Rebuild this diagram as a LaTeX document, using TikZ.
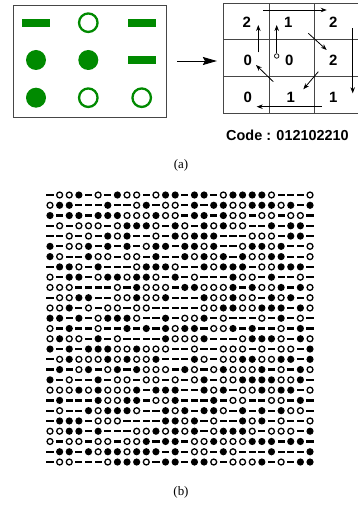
\documentclass[tikz,border=0pt]{standalone}
\usepackage{fontspec}
\setmainfont{Liberation Serif}
\setsansfont{Liberation Sans}
\usetikzlibrary{arrows.meta, positioning, calc}
\definecolor{codegreen}{RGB}{0,138,0}
\definecolor{gridgray}{RGB}{70,70,70}

\begin{document}
\begin{tikzpicture}[
    x=1bp, y=-1bp, >=Stealth,
    gbar/.style={fill=codegreen, minimum width=28bp, minimum height=8bp,
                 inner sep=0pt},
    gdot/.style={circle, fill=codegreen, minimum size=20bp, inner sep=0pt},
    gring/.style={circle, draw=codegreen, line width=2.3bp,
                  minimum size=18.5bp, inner sep=0pt},
    digit/.style={font=\fontsize{15}{15}\selectfont\sffamily\bfseries},
    path/.style={->, >={Stealth[length=6bp, width=4.5bp]}, line width=0.8bp},
    caption/.style={font=\fontsize{13}{15}\selectfont}
  ]
  \useasboundingbox (0,0) rectangle (357,516);

  % (a) symbol block
  \node[draw=gridgray, line width=0.8bp, minimum width=152.7bp,
        minimum height=112bp, inner sep=0pt] (box) at (89.7,61) {};
  \node[gbar]  (s11) at (36,22.7)    {};
  \node[gring] (s12) at (88.3,22.7)  {};
  \node[gbar]  (s13) at (141.7,22.7) {};
  \node[gdot]  (s21) at (36,60)      {};
  \node[gdot]  (s22) at (88.3,60)    {};
  \node[gbar]  (s23) at (141.7,60)   {};
  \node[gdot]  (s31) at (36,97.7)    {};
  \node[gring] (s32) at (88.3,97.7)  {};
  \node[gring] (s33) at (141.7,97.7) {};

  % code grid
  \node[draw=gridgray, line width=0.8bp, minimum width=135bp,
        minimum height=110bp, inner sep=0pt] (cgrid) at (290.8,58.3) {};
  \draw[gridgray, line width=0.8bp]
    (269,3.3) -- (269,113.3) (314,3.3) -- (314,113.3)
    (223.3,39.3) -- (358,39.3) (223.3,76.7) -- (358,76.7);
  \coordinate (in) at ([xshift=11bp]box.east);
  \draw[->, >={Stealth[length=14bp, width=8bp, inset=2bp]}, line width=0.9bp]
    (in) -- ([xshift=-6bp]cgrid.west |- in);

  \node[digit] (c11) at (246.7,22.7) {2};
  \node[digit] (c12) at (288.3,22.7) {1};
  \node[digit] (c13) at (333.3,22.7) {2};
  \node[digit] (c21) at (247.7,60.3) {0};
  \node[digit] (c22) at (289.3,60.3) {0};
  \node[digit] (c23) at (333.3,60.3) {2};
  \node[digit] (c31) at (247.7,97.3) {0};
  \node[digit] (c32) at (290.7,97.3) {1};
  \node[digit] (c33) at (333.3,97.3) {1};

  % reading path
  \node[circle, draw, line width=0.7bp, minimum size=4.5bp, inner sep=0pt]
    (start) at (276.7,56) {};
  \coordinate (p1) at (276.7,25);
  \coordinate (p2) at (263.3,10);    \coordinate (p3) at (326.7,10);
  \coordinate (p4) at (352.7,28.3);  \coordinate (p5) at (352.7,93.3);
  \coordinate (p6) at (321.7,106.7); \coordinate (p7) at (256.7,106.7);
  \coordinate (p8) at (258.3,52.3);  \coordinate (p9) at (258.3,25);
  \coordinate (q1) at (308.3,33.3);  \coordinate (q2) at (326.7,50);
  \coordinate (q3) at (318.3,71.7);  \coordinate (q4) at (303.3,89.3);
  \coordinate (q5) at (273.3,81.7);  \coordinate (q6) at (256,65);
  \draw[path] (start) -- (p1);
  \draw[path] (p2) -- (p3);
  \draw[path] (p4) -- (p5);
  \draw[path] (p6) -- (p7);
  \draw[path] (p8) -- (p9);
  \draw[path] (q1) -- (q2);
  \draw[path] (q3) -- (q4);
  \draw[path] (q5) -- (q6);

  \node[font=\fontsize{14.5}{16}\selectfont\sffamily\bfseries]
    (code) at (287.5,135) {Code : 012102210};
  \node[caption] (capa) at (181,165) {(a)};

  % (b) code field: 0 = dot, 1 = ring, 2 = bar
  \foreach \row [count=\r from 0] in {
    {2,1,1,0,2,1,2,0,1,1,2,1,0,0,2,0,0,2,1,0,0,0,0,1,2,2,2,1},
    {1,0,0,2,2,2,0,2,2,1,0,2,1,1,2,0,2,0,0,1,1,0,0,0,1,0,2,0},
    {0,2,0,0,2,0,0,0,1,1,1,0,1,1,2,0,0,2,0,1,1,2,1,1,2,1,1,2},
    {2,1,2,1,1,1,2,1,0,0,0,1,2,0,1,2,0,1,0,1,1,2,2,0,2,0,0,2},
    {2,2,1,2,1,2,0,1,0,2,2,1,2,0,1,0,0,0,2,2,2,1,1,1,2,0,0,2},
    {0,2,1,1,0,2,0,2,0,2,1,0,0,2,0,0,1,0,2,2,1,0,0,1,0,2,2,1},
    {0,1,2,2,0,1,1,2,1,1,2,0,2,2,0,1,0,1,0,2,0,1,1,0,0,2,2,1},
    {2,0,0,1,2,0,2,2,2,1,0,0,0,1,2,2,0,1,0,0,0,2,1,1,0,0,0,2},
    {1,2,0,0,2,1,0,0,1,0,0,1,2,0,2,1,2,2,2,0,1,1,2,0,2,2,1,2},
    {1,1,1,2,2,2,2,1,2,0,1,1,1,2,0,0,1,1,1,0,2,0,1,1,0,2,0,1},
    {2,1,1,0,0,2,2,1,1,0,1,1,0,2,2,2,0,1,1,0,1,1,2,0,1,0,2,1},
    {1,1,0,2,1,2,1,1,2,1,1,2,2,2,2,2,1,1,0,0,1,1,0,0,0,2,0,1},
    {0,0,2,0,2,1,0,0,0,1,2,2,0,2,1,1,0,2,1,2,2,2,1,2,0,2,1,2},
    {1,2,0,2,2,1,2,2,0,2,0,2,0,1,0,0,2,1,1,0,2,0,2,2,1,2,0,2},
    {1,0,1,1,2,0,2,1,2,2,2,2,0,1,1,1,0,2,2,2,1,0,0,0,1,2,0,1},
    {0,2,0,2,0,0,0,1,1,0,1,1,1,2,2,1,2,2,1,1,1,2,1,2,1,1,2,0},
    {2,1,0,1,1,1,0,1,0,1,1,0,2,2,2,0,1,2,1,1,0,0,1,1,0,0,2,0},
    {2,0,2,1,0,2,1,0,2,0,1,1,1,2,0,1,2,1,0,1,1,1,0,2,1,2,0,1},
    {0,2,1,2,2,0,2,1,1,2,1,1,2,1,2,1,0,2,1,1,0,0,0,0,1,1,0,2},
    {1,1,1,0,1,0,1,1,1,0,2,0,0,0,2,2,0,1,0,2,1,1,0,1,0,0,2,1},
    {2,0,2,2,2,0,1,1,0,0,2,1,1,0,2,2,2,0,2,1,1,2,2,1,1,2,0,2},
    {2,1,2,2,0,1,0,0,0,1,2,2,0,1,0,2,0,0,1,2,0,2,0,2,0,1,1,2},
    {2,0,0,0,2,1,1,1,2,2,2,2,0,0,1,0,2,1,2,2,0,1,0,2,1,2,2,1},
    {1,1,0,0,2,0,2,2,2,1,1,0,1,0,1,0,2,1,0,0,0,1,2,1,1,1,2,0},
    {1,2,1,1,2,1,1,2,1,1,0,2,0,0,2,1,1,0,1,1,1,0,0,0,2,0,0,2},
    {2,0,0,2,0,1,0,0,1,0,0,0,2,0,2,1,1,2,0,1,2,2,2,0,2,2,2,0},
    {2,1,1,2,2,2,1,0,0,0,1,2,0,0,2,0,0,1,2,1,1,1,0,2,1,2,0,0}}{
    \foreach \s [count=\c from 0] in \row {
      \coordinate (m) at (50+\c*9.63, 195+\r*10.27);
      \ifcase\s
        \fill (m) circle (3.6bp);
      \or
        \draw[line width=1.3bp] (m) circle (2.95bp);
      \or
        \fill ($(m)+(-3.6,-1.1)$) rectangle ++(7.2,2.2);
      \fi
    }
  }
  \node[caption] (capb) at (181,492) {(b)};
\end{tikzpicture}
\end{document}
